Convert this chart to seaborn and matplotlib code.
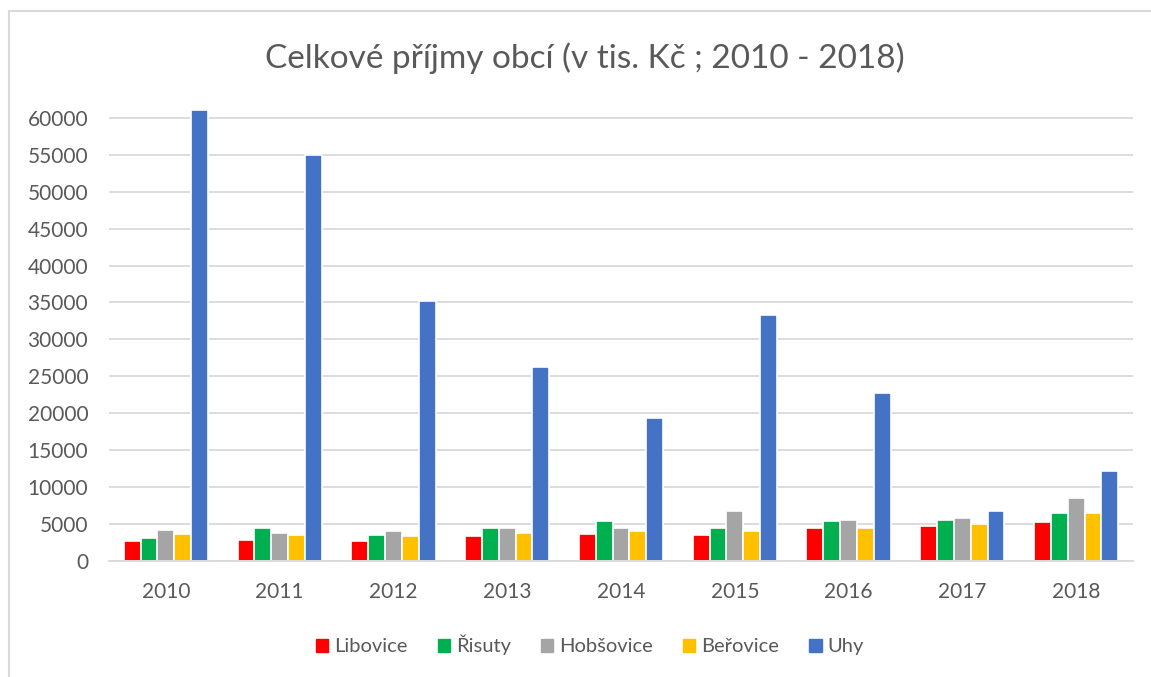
import pandas as pd
import matplotlib.pyplot as plt
import seaborn as sns
from matplotlib.patches import Rectangle

# --- Data (tis. Kč) ---
years = ['2010', '2011', '2012', '2013', '2014', '2015', '2016', '2017', '2018']
libovice = [2650, 2850, 2650, 3350, 3650, 3500, 4400, 4750, 5250]
risuty = [3050, 4500, 3550, 4400, 5450, 4500, 5450, 5600, 6450]
hobsovice = [4200, 3850, 4050, 4400, 4500, 6800, 5600, 5800, 8550]
berovice = [3650, 3550, 3350, 3850, 4050, 4050, 4400, 4950, 6450]
uhy = [61000, 54900, 35200, 26300, 19300, 33300, 22700, 6800, 12200]

obce = ['Libovice', 'Řisuty', 'Hobšovice', 'Beřovice', 'Uhy']
barvy = ['#FF0000', '#00B050', '#A5A5A5', '#FFC000', '#4472C4']

# --- Long table for seaborn ---
series = [libovice, risuty, hobsovice, berovice, uhy]
rows = []
for name, vals in zip(obce, series):
    for y, v in zip(years, vals):
        rows.append({'Rok': y, 'Obec': name, 'Příjmy': v})
df = pd.DataFrame(rows)

sns.set_style('white')
plt.rcParams['font.family'] = ['Lato', 'DejaVu Sans']
text_col = '#595959'

fig = plt.figure(figsize=(11.51, 6.77), dpi=100)
ax = fig.add_axes([109 / 1151, 1 - 561 / 677, (1133 - 109) / 1151, (561 - 103) / 677])

sns.barplot(data=df, x='Rok', y='Příjmy', hue='Obec', order=years, hue_order=obce,
            palette=barvy, width=0.74, edgecolor='white', linewidth=1.2,
            saturation=1, ax=ax)

ax.set_ylim(0, 62000)
ax.set_xlim(-0.5, len(years) - 0.5)
ax.set_yticks(range(0, 60001, 5000))
ax.set_yticklabels([str(t) for t in range(0, 60001, 5000)])
ax.yaxis.grid(True, color='#D9D9D9', linewidth=1.3)
ax.set_axisbelow(True)
for s in ['top', 'right', 'left']:
    ax.spines[s].set_visible(False)
ax.spines['bottom'].set_color('#D9D9D9')
ax.spines['bottom'].set_linewidth(1.3)
ax.tick_params(axis='y', length=0, pad=15, labelsize=15, labelcolor=text_col)
ax.tick_params(axis='x', length=0, pad=15, labelsize=15, labelcolor=text_col)
ax.set_xlabel('')
ax.set_ylabel('')

ax.get_legend().remove()
handles = [Rectangle((0, 0), 1, 1, color=c) for c in barvy]
fig.legend(handles, obce, loc='center', bbox_to_anchor=(590 / 1151, 1 - 645 / 677),
           ncol=5, frameon=False, fontsize=14.5, labelcolor=text_col,
           handlelength=0.6, handleheight=0.6, handletextpad=0.3, columnspacing=1.5)

fig.text(585 / 1151, 1 - 58 / 677, 'Celkové příjmy obcí (v tis. Kč ; 2010 - 2018)',
         ha='center', va='center', fontsize=24, color=text_col)

# chart frame like the original
fig.patches.append(Rectangle((9 / 1151, -0.01), 1.05, 1 - 11 / 677 + 0.01,
                             transform=fig.transFigure, fill=False,
                             edgecolor='#D9D9D9', linewidth=1.5))

fig.savefig('out.png', dpi=100)
